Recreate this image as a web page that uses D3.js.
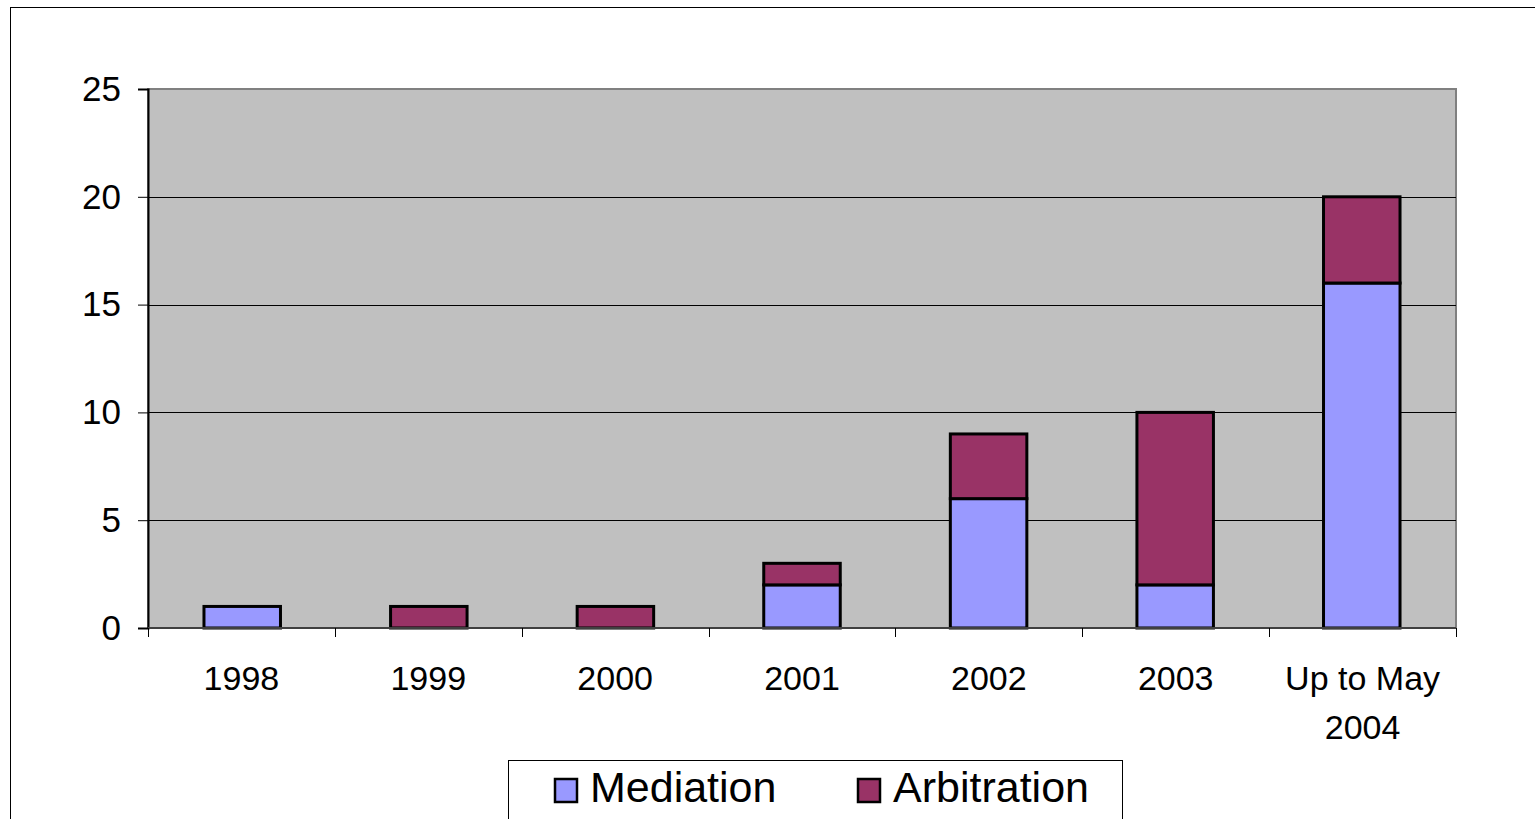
<!DOCTYPE html>
<html>
<head>
<meta charset="utf-8">
<script src="https://cdn.jsdelivr.net/npm/d3@7"></script>
<style>
  body { margin: 0; background: #fff; }
  svg { display: block; font-family: "Liberation Sans", Arial, sans-serif; }
</style>
</head>
<body>
<svg id="chart" width="1535" height="819"></svg>
<script>
// data
var categories = ["1998", "1999", "2000", "2001", "2002", "2003", "Up to May 2004"];
var mediation = [1, 0, 0, 2, 6, 2, 16];
var arbitration = [0, 1, 1, 1, 3, 8, 4];
var yTicks = [0, 5, 10, 15, 20, 25];
var seriesNames = ["Mediation", "Arbitration"];
var seriesColors = ["#9999FF", "#993366"];

var svg = d3.select("#chart");

// outer chart border
svg.append("rect")
  .attr("x", 10.5).attr("y", 7.5)
  .attr("width", 1540).attr("height", 830)
  .attr("fill", "none").attr("stroke", "#000").attr("stroke-width", 1);

var pLeft = 148, pTop = 89, pRight = 1456, pBottom = 628;

var x = d3.scaleBand().domain(categories).range([pLeft, pRight]).paddingInner(0.59).paddingOuter(0.3);
var xb = d3.scaleBand().domain(categories).range([pLeft, pRight]);
var y = d3.scaleLinear().domain([0, 25]).range([pBottom, pTop]);

// plot area
svg.append("rect")
  .attr("x", pLeft).attr("y", pTop)
  .attr("width", pRight - pLeft).attr("height", pBottom - pTop)
  .attr("fill", "#C0C0C0").attr("stroke", "#808080").attr("stroke-width", 2);

// gridlines
svg.append("g").selectAll("line")
  .data(yTicks.filter(function(d){ return d > 0 && d < 25; }))
  .enter().append("line")
  .attr("x1", pLeft).attr("x2", pRight)
  .attr("y1", function(d){ return Math.round(y(d)) + 0.5; })
  .attr("y2", function(d){ return Math.round(y(d)) + 0.5; })
  .attr("stroke", "#000").attr("stroke-width", 1);

// stacked bars
var rows = categories.map(function(c, i){
  return { cat: c, Mediation: mediation[i], Arbitration: arbitration[i] };
});
var stack = d3.stack().keys(seriesNames)(rows);

svg.append("g").selectAll("g")
  .data(stack)
  .enter().append("g")
  .attr("fill", function(d, i){ return seriesColors[i]; })
  .selectAll("rect")
  .data(function(d){ return d.filter(function(p){ return p[1] > p[0]; }); })
  .enter().append("rect")
  .attr("x", function(d){ return x(d.data.cat); })
  .attr("width", x.bandwidth())
  .attr("y", function(d){ return y(d[1]); })
  .attr("height", function(d){ return y(d[0]) - y(d[1]); })
  .attr("stroke", "#000").attr("stroke-width", 3);

// y axis
var yAxis = d3.axisLeft(y).tickValues(yTicks).tickSize(10).tickPadding(17);
var gy = svg.append("g").attr("transform", "translate(" + pLeft + ",0)").call(yAxis);
gy.select(".domain").attr("stroke", "#000").attr("stroke-width", 2);
gy.selectAll(".tick line").attr("stroke", "#000");
gy.selectAll("text").attr("font-size", 35).attr("fill", "#000").attr("font-family", "Liberation Sans, Arial, sans-serif");

// x axis line + ticks at band boundaries
svg.append("line")
  .attr("x1", pLeft).attr("x2", pRight).attr("y1", pBottom).attr("y2", pBottom)
  .attr("stroke", "#404040").attr("stroke-width", 2);
var bounds = categories.map(function(c){ return xb(c); }).concat([pRight]);
svg.append("g").selectAll("line")
  .data(bounds)
  .enter().append("line")
  .attr("x1", function(d){ return Math.round(d) + 0.5; })
  .attr("x2", function(d){ return Math.round(d) + 0.5; })
  .attr("y1", pBottom).attr("y2", pBottom + 9)
  .attr("stroke", "#000").attr("stroke-width", 1);

// x labels (wrap the long one)
var xl = svg.append("g").selectAll("text")
  .data(categories)
  .enter().append("text")
  .attr("text-anchor", "middle")
  .attr("font-size", 34)
  .attr("fill", "#000")
  .attr("x", function(d){ return xb(d) + xb.bandwidth() / 2; })
  .attr("y", 690);
xl.each(function(d){
  var t = d3.select(this);
  if (d.indexOf("May") >= 0) {
    t.append("tspan").attr("x", t.attr("x")).attr("dy", 0).text("Up to May");
    t.append("tspan").attr("x", t.attr("x")).attr("dy", 49).text("2004");
  } else {
    t.text(d);
  }
});

// legend
var lg = svg.append("g");
lg.append("rect")
  .attr("x", 508.5).attr("y", 760.5).attr("width", 614).attr("height", 80)
  .attr("fill", "#fff").attr("stroke", "#000").attr("stroke-width", 1);
var legX = [555, 858];
seriesNames.forEach(function(n, i){
  lg.append("rect")
    .attr("x", legX[i]).attr("y", 779).attr("width", 22).attr("height", 23)
    .attr("fill", seriesColors[i]).attr("stroke", "#000").attr("stroke-width", 2.5);
  lg.append("text")
    .attr("x", legX[i] + 35).attr("y", 802)
    .attr("font-size", 43).attr("fill", "#000")
    .text(n);
});
</script>
</body>
</html>
